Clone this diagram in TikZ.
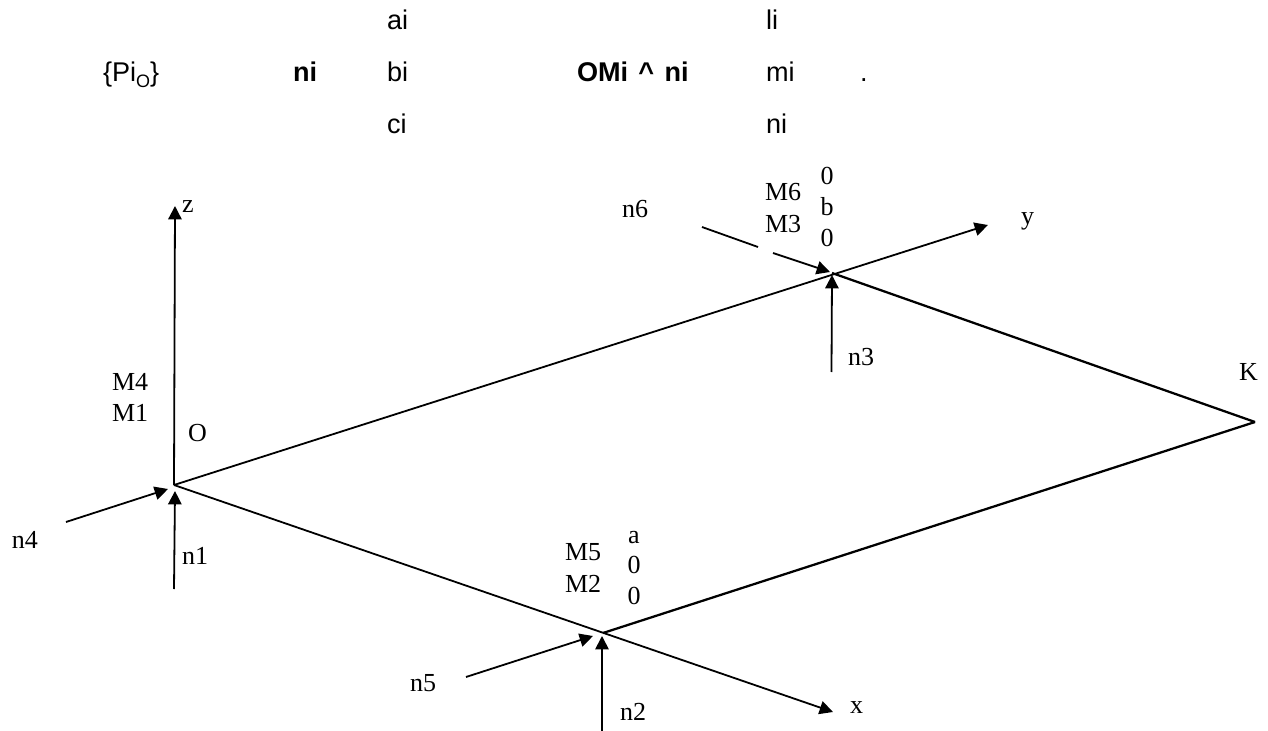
\documentclass[tikz,border=0pt]{standalone}
\usepackage{fontspec}
\setmainfont{Liberation Serif}
\newfontfamily\hsans{Liberation Sans}
\usetikzlibrary{arrows.meta}
\tikzset{
  ser/.style={inner sep=0pt,outer sep=0pt,anchor=base west,font=\fontsize{19.5}{22}\selectfont},
  sercol/.style={inner sep=0pt,outer sep=0pt,anchor=base,font=\fontsize{19.5}{22}\selectfont},
  san/.style={inner sep=0pt,outer sep=0pt,anchor=base west,font=\fontsize{20.3}{24}\selectfont\hsans},
  ln/.style={line width=1.35pt,black},
  thk/.style={line width=1.7pt,black},
  arr/.style={ln,-{Triangle[length=10pt,width=10pt]}}
}
\begin{document}
\begin{tikzpicture}[x=0.75pt,y=-0.75pt]
\useasboundingbox (0,0) rectangle (1268,731);
% top text
\node[san] (pi) at (103,82) {\{Pi\raisebox{-4pt}{\fontsize{13.5}{14}\selectfont O}\}};
\node[san] (nib) at (293,82) {\bfseries ni};
\node[san] (ai) at (387,30) {ai};
\node[san] (bi) at (387,82) {bi};
\node[san] (ci) at (387,134) {ci};
\node[san] (om) at (577,82) {\bfseries\spaceskip=0.38em OMi \^{} ni};
\node[san] (li) at (766,30) {li};
\node[san] (mi) at (766,82) {mi};
\node[san] (nii) at (766,134) {ni};
\node[san] (dot) at (860,82) {.};
% points
\coordinate (O) at (174,485);
\coordinate (A) at (603,633);
\coordinate (B) at (832,273);
\coordinate (K) at (1255,422);
\coordinate (zt) at (175,206);
\coordinate (yt) at (988,225);
\coordinate (xt) at (833,712);
\coordinate (n1s) at (174,589);
\coordinate (n1t) at (175,491);
\coordinate (n2s) at (602,731);
\coordinate (n2t) at (602,636);
\coordinate (n3s) at (831.5,372);
\coordinate (n3t) at (832,275);
\coordinate (n4s) at (66,522);
\coordinate (n4t) at (168,489);
\coordinate (n5s) at (466,677);
\coordinate (n5t) at (593,636);
\coordinate (n6s) at (702,227);
\coordinate (n6a) at (758,247);
\coordinate (n6b) at (773,253);
\coordinate (n6t) at (830,272);
% lines
\draw[arr] (O) -- (zt);
\draw[arr] (O) -- (yt);
\draw[arr] (O) -- (xt);
\draw[thk] (B) -- (K);
\draw[thk] (A) -- (K);
\draw[arr] (n1s) -- (n1t);
\draw[arr] (n2s) -- (n2t);
\draw[arr] (n3s) -- (n3t);
\draw[arr] (n4s) -- (n4t);
\draw[arr] (n5s) -- (n5t);
\draw[ln] (n6s) -- (n6a);
\draw[arr] (n6b) -- (n6t);
% labels
\node[ser] (lz) at (182,213) {z};
\node[ser] (ly) at (1021,224) {y};
\node[ser] (lx) at (850,713) {x};
\node[ser] (lK) at (1239,380) {K};
\node[ser] (lO) at (188,441) {O};
\node[ser] (lM4) at (112,390) {M4};
\node[ser] (lM1) at (112,421) {M1};
\node[ser] (ln4) at (12,548) {n4};
\node[ser] (ln1) at (182,564) {n1};
\node[ser] (lM5) at (565,560) {M5};
\node[ser] (lM2) at (565,592) {M2};
\node[sercol] (la) at (634,543) {a};
\node[sercol] (l0a) at (634,573) {0};
\node[sercol] (l0b) at (634,604) {0};
\node[ser] (ln5) at (410,691) {n5};
\node[ser] (ln2) at (620,720) {n2};
\node[ser] (lM6) at (765,201) {M6};
\node[ser] (lM3) at (765,233) {M3};
\node[sercol] (l0c) at (827,185) {0};
\node[sercol] (lb) at (827,216) {b};
\node[sercol] (l0d) at (827,247) {0};
\node[ser] (ln6) at (622,218) {n6};
\node[ser] (ln3) at (848,365) {n3};
\end{tikzpicture}
\end{document}
